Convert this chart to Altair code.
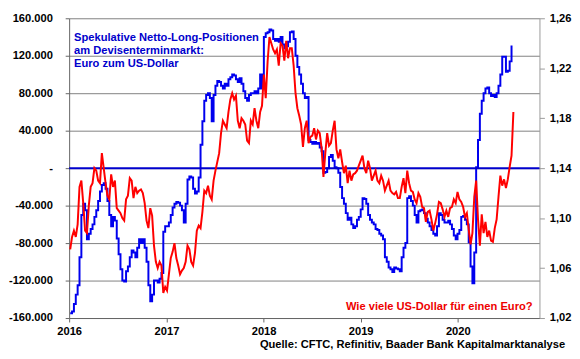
import altair as alt
import pandas as pd

years = [2016, 2017, 2018, 2019, 2020]
left_ticks = [-160000, -120000, -80000, -40000, 0, 40000, 80000, 120000, 160000]
right_ticks = [1.02, 1.06, 1.10, 1.14, 1.18, 1.22, 1.26]

# CFTC speculative net long positions, EUR (thousands of contracts), weekly
blue_2016 = [-155, -153, -145, -135, -125, -95, -50, -38, -45, -76,
             -70, -65, -60, -52, -45, -35, -25, -18, -16, -22,
             -35, -50, -62, -52, -56, -75, -92, -108, -120, -121,
             -110, -105, -95, -88, -90, -95, -85, -76, -80, -76,
             -85, -100, -125, -142, -135, -120, -120, -122, -118, -112,
             -68, -62]
blue_2017 = [-62, -58, -50, -42, -38, -36, -37, -40, -45, -58,
             -38, -12, -9, -10, -22, -27, -25, -10, 25, 50,
             72, 78, 80, 75, 50, 78, 88, 93, 92, 88,
             85, 90, 88, 95, 97, 100, 99, 95, 92, 96,
             90, 82, 75, 72, 78, 80, 80, 82, 80, 85,
             100, 85]
blue_2018 = [140, 144, 145, 148, 147, 138, 136, 138, 135, 140,
             132, 128, 130, 135, 145, 146, 138, 120, 108, 100,
             90, 80, 75, 76, 30, 28, 26, 28, 26, 27,
             22, 18, -5, -4, 0, 12, 14, 8, 1, 0,
             -5, -20, -32, -38, -48, -55, -53, -60, -64, -62,
             -55, -52]
blue_2019 = [-44, -32, -33, -38, -50, -55, -58, -60, -65, -66,
             -70, -72, -76, -95, -100, -106, -108, -111, -106, -107,
             -108, -110, -95, -85, -80, -32, -30, -35, -40, -50,
             -58, -46, -45, -44, -48, -54, -58, -62, -66, -70,
             -72, -62, -48, -50, -55, -58, -58, -56, -60, -65,
             -72, -76, -70]
blue_2020 = [-66, -52, -51, -55, -60, -79, -105, -123, -90, 1,
             30, 58, 72, 80, 85, 86, 80, 77, 78, 76,
             80, 88, 100, 119, 119, 103, 104, 114, 131]

# EUR/USD, weekly
red_2016 = [1.075, 1.085, 1.090, 1.085, 1.095, 1.125, 1.130, 1.112, 1.090, 1.088,
            1.110, 1.125, 1.128, 1.140, 1.138, 1.130, 1.128, 1.152, 1.140, 1.128,
            1.118, 1.115, 1.135, 1.125, 1.130, 1.108, 1.106, 1.104, 1.100, 1.098,
            1.115, 1.118, 1.132, 1.130, 1.116, 1.125, 1.120, 1.122, 1.123, 1.120,
            1.112, 1.098, 1.092, 1.108, 1.102, 1.078, 1.065, 1.060, 1.065, 1.062,
            1.040, 1.045]
red_2017 = [1.042, 1.055, 1.068, 1.073, 1.080, 1.068, 1.062, 1.055, 1.058, 1.060,
            1.065, 1.078, 1.075, 1.065, 1.062, 1.072, 1.090, 1.094, 1.092, 1.105,
            1.122, 1.120, 1.126, 1.118, 1.115, 1.130, 1.138, 1.145, 1.152, 1.168,
            1.178, 1.175, 1.172, 1.185, 1.195, 1.200, 1.195, 1.198, 1.178, 1.172,
            1.180, 1.178, 1.175, 1.162, 1.160, 1.178, 1.175, 1.188, 1.178, 1.172,
            1.185, 1.190]
red_2018 = [1.215, 1.196, 1.225, 1.245, 1.240, 1.235, 1.232, 1.235, 1.222, 1.240,
            1.238, 1.226, 1.242, 1.228, 1.236, 1.236, 1.222, 1.200, 1.188, 1.182,
            1.175, 1.157, 1.172, 1.178, 1.160, 1.165, 1.166, 1.172, 1.163, 1.170,
            1.168, 1.156, 1.133, 1.152, 1.168, 1.158, 1.160, 1.170, 1.178, 1.155,
            1.148, 1.155, 1.145, 1.136, 1.142, 1.128, 1.138, 1.130, 1.135, 1.136,
            1.138, 1.142]
red_2019 = [1.146, 1.150, 1.140, 1.136, 1.146, 1.140, 1.130, 1.134, 1.138, 1.130,
            1.128, 1.134, 1.130, 1.122, 1.126, 1.130, 1.122, 1.120, 1.119, 1.121,
            1.116, 1.116, 1.125, 1.132, 1.120, 1.138, 1.128, 1.122, 1.121, 1.115,
            1.112, 1.120, 1.117, 1.109, 1.108, 1.097, 1.105, 1.106, 1.099, 1.090,
            1.096, 1.103, 1.113, 1.112, 1.107, 1.101, 1.106, 1.101, 1.108, 1.109,
            1.115, 1.112, 1.121]
red_2020 = [1.115, 1.113, 1.109, 1.101, 1.104, 1.091, 1.079, 1.088, 1.117, 1.130,
            1.099, 1.078, 1.103, 1.088, 1.097, 1.085, 1.090, 1.082, 1.081, 1.092,
            1.099, 1.117, 1.134, 1.126, 1.131, 1.124, 1.131, 1.141, 1.150, 1.185]

title_text = "Spekulative Netto-Long-Positionen\nam Devisenterminmarkt:\nEuro zum US-Dollar"
red_label = "Wie viele US-Dollar für einen Euro?"
source_text = "Quelle: CFTC, Refinitiv, Baader Bank Kapitalmarktanalyse"

blue = blue_2016 + blue_2017 + blue_2018 + blue_2019 + blue_2020
red = red_2016 + red_2017 + red_2018 + red_2019 + red_2020
dates = pd.date_range("2016-01-05", periods=len(red), freq="7D").strftime("%Y-%m-%d")

blue_df = pd.DataFrame({"date": dates[:len(blue)], "value": [v * 1000 for v in blue]})
red_df = pd.DataFrame({"date": dates, "rate": red})

FONT = "Liberation Sans"
FS = 11.3
BLUE = "#0000ee"
RED = "#ff0000"

x_enc = alt.X(
    "date:T",
    scale=alt.Scale(domain=[alt.DateTime(year=2016, month=1, date=1),
                            alt.DateTime(year=2020, month=11, date=3)]),
    axis=alt.Axis(values=[alt.DateTime(year=y, month=1, date=1) for y in years],
                  format="%Y", title=None, grid=False, tickSize=4, labelPadding=4,
                  labelFlush=False, labelOverlap=False, tickCount=20,
                  domainColor="#666", tickColor="#666"),
)

left_label = ("datum.value == 0 ? '-\u00a0\u00a0\u2009' : "
              "replace(replace(format(datum.value, ',.0f'), ',', '.'), '\u2212', '-')")

blue_line = alt.Chart(blue_df).mark_line(
    color=BLUE, strokeWidth=2, interpolate="step-after"
).encode(
    x=x_enc,
    y=alt.Y("value:Q",
            scale=alt.Scale(domain=[-160000, 160000], nice=False, zero=False),
            axis=alt.Axis(values=left_ticks, title=None, grid=True, gridColor="#808080",
                          gridWidth=1, tickSize=4, labelPadding=13, labelExpr=left_label,
                          labelOverlap=False, tickCount=20,
                          domainColor="#666", tickColor="#666")),
)

zero_rule = alt.Chart(pd.DataFrame({"z": [0]})).mark_rule(
    color="#0000cc", strokeWidth=2
).encode(y=alt.datum(0))

left = alt.layer(blue_line, zero_rule)

red_line = alt.Chart(red_df).mark_line(color=RED, strokeWidth=2).encode(
    x=alt.X("date:T"),
    y=alt.Y("rate:Q",
            scale=alt.Scale(domain=[1.02, 1.26], nice=False, zero=False),
            axis=alt.Axis(orient="right", values=right_ticks, title=None, grid=False,
                          tickSize=5, labelPadding=5, labelOverlap=False, tickCount=20,
                          labelExpr="replace(format(datum.value, '.2f'), '.', ',')",
                          domainColor="#999", tickColor="#999")),
)

title_mark = alt.Chart(pd.DataFrame({"t": [title_text]})).mark_text(
    align="left", baseline="alphabetic", font=FONT, fontSize=FS, fontWeight="bold",
    color="#0000cc", lineBreak="\n", lineHeight=13.2
).encode(x=alt.value(5), y=alt.value(23), text="t:N")

red_mark = alt.Chart(pd.DataFrame({"t": [red_label]})).mark_text(
    align="right", baseline="alphabetic", font=FONT, fontSize=FS, fontWeight="bold",
    color="#ee0000"
).encode(x=alt.value(470), y=alt.value(295.5), text="t:N")

source_mark = alt.Chart(pd.DataFrame({"t": [source_text]})).mark_text(
    align="right", baseline="alphabetic", font=FONT, fontSize=FS, fontWeight="bold",
    color="#000000"
).encode(x=alt.value(503), y=alt.value(334), text="t:N")

chart = alt.layer(left, red_line, title_mark, red_mark, source_mark).resolve_scale(
    y="independent"
).properties(
    width=477, height=304,
    autosize=alt.AutoSizeParams(type="none"),
    padding={"left": 62, "top": 8, "right": 33, "bottom": 31},
    background="white",
).configure_view(stroke=None).configure_axis(
    labelFont=FONT, labelFontSize=FS, labelFontWeight="bold", labelColor="#000000",
)

chart.save("out.html", embed_options={"renderer": "svg", "actions": False})
